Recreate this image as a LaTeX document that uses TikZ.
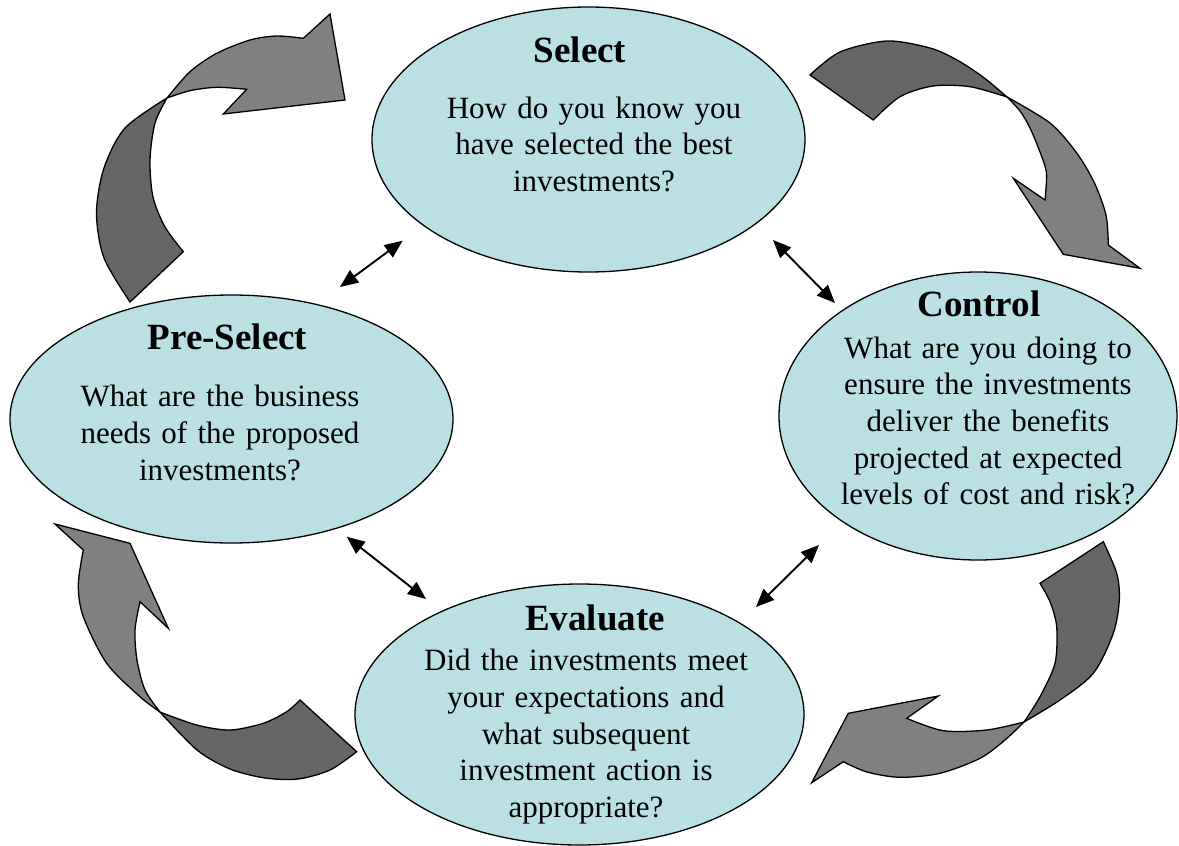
\documentclass[tikz,border=0pt]{standalone}
\usepackage{fontspec}
\setmainfont{Liberation Serif}
\usetikzlibrary{shapes.geometric,arrows.meta}
\definecolor{bubble}{RGB}{187,224,227}
\definecolor{bandDark}{RGB}{102,102,102}
\definecolor{bandLight}{RGB}{128,128,128}

\begin{document}
\begin{tikzpicture}[x=1pt,y=-1pt,
  stage/.style={ellipse, draw=black, line width=1.3pt, fill=bubble, inner sep=0pt},
  title/.style={font=\fontsize{37}{40}\selectfont\bfseries, anchor=base, inner sep=0pt},
  body/.style={font=\fontsize{31}{36.7}\selectfont, anchor=base, inner sep=0pt,
               text width=430pt, align=center},
  link/.style={line width=1.9pt,
               {Triangle[length=18pt,width=15pt]}-{Triangle[length=18pt,width=15pt]}},
  bandA/.style={fill=bandDark, draw=black, line width=1.3pt, line join=miter},
  bandB/.style={fill=bandLight, draw=black, line width=1.3pt, line join=miter}
]
\useasboundingbox (0,0) rectangle (1179,846);

% ---- curved cycle arrows (twisted ribbons: dark tail band, light head band)
% Pre-Select -> Select
\filldraw[bandA] (183.3,251.7) -- (130,302)
  -- plot[smooth] coordinates {(130,302) (104,258) (96.5,213) (104,168) (125,128) (167,98)}
  -- plot[smooth] coordinates {(167,98) (155,123) (150,160) (153,197) (165,227) (183.3,251.7)}
  -- cycle;
\filldraw[bandB]
  plot[smooth] coordinates {(167,98) (190,71.7) (216.7,53.3) (250,40) (276.7,36) (303.3,38.3)}
  -- (330,14) -- (345,100) -- (223.3,114) -- (246.7,89.3)
  -- plot[smooth] coordinates {(246.7,89.3) (216.7,87.3) (190,90.7) (167,98)}
  -- cycle;

% Select -> Control
\filldraw[bandA] (873.3,120) -- (810,75)
  -- plot[smooth] coordinates {(810,75) (840,52) (887,41) (930,48) (957,60) (983,77) (1007,97)}
  -- plot[smooth] coordinates {(1007,97) (970,86.7) (933,86) (900,96.7) (873.3,120)}
  -- cycle;
\filldraw[bandB]
  plot[smooth] coordinates {(1007,97) (1050,123) (1076,152) (1094,182) (1106,215) (1108.3,245)}
  -- (1140,268.3) -- (1063.3,254.3) -- (1013.3,178.3) -- (1045,200)
  -- plot[smooth] coordinates {(1045,200) (1046.5,173) (1040,152) (1030,128) (1020,111) (1007,97)}
  -- cycle;

% Control -> Evaluate
\filldraw[bandA] (1040,583.3) -- (1103.3,541.7)
  -- plot[smooth] coordinates {(1103.3,541.7) (1116.7,573.3) (1119.3,600) (1113.3,633.3) (1093.3,673.3) (1060,700) (1024,722)}
  -- plot[smooth] coordinates {(1024,722) (1040,696.7) (1055,663.3) (1056.7,626.7) (1050,601.7) (1040,583.3)}
  -- cycle;
\filldraw[bandB]
  plot[smooth] coordinates {(1024,722) (986.7,730) (943.3,730.7) (906.7,718.3)}
  -- (938.3,696) -- (848.3,713.3) -- (811.7,782.7) -- (843.3,761.7)
  -- plot[smooth] coordinates {(843.3,761.7) (867,772) (900,777.3) (940,773.3) (980,758.3) (1005,740) (1024,722)}
  -- cycle;

% Evaluate -> Pre-Select
\filldraw[bandA] (300,700) -- (356.7,751.7)
  -- plot[smooth] coordinates {(356.7,751.7) (330,770) (298,779) (265,778) (230,769) (197,750) (160,712)}
  -- plot[smooth] coordinates {(160,712) (196.7,725) (230,730) (263.3,723.3) (286.7,711.7) (300,700)}
  -- cycle;
\filldraw[bandB]
  plot[smooth] coordinates {(160,712) (140,696.7) (106.7,663.3) (83.3,616.7) (78.3,585) (83.3,550)}
  -- (55,524) -- (130,543.3) -- (168.3,628.3) -- (140,601.7)
  -- plot[smooth] coordinates {(140,601.7) (135,630) (137,660) (145,690) (160,712)}
  -- cycle;

% ---- the four stages
\node[stage, minimum width=433pt, minimum height=265pt] (sel) at (588.5,139.5) {};
\node[stage, minimum width=443pt, minimum height=248pt] (pre) at (231.5,419) {};
\node[stage, minimum width=398pt, minimum height=288pt] (ctl) at (978,416) {};
\node[stage, minimum width=449pt, minimum height=261pt] (eva) at (579.5,714.5) {};

\node[title] (selT) at (580,62) {Select};
\node[body]  (selB) at (594,118) {How do you know you\\have selected the best\\investments?};

\node[title] (preT) at (227.5,349) {Pre-Select};
\node[body]  (preB) at (220,406.7) {What are the business\\needs of the proposed\\investments?};

\node[title] (ctlT) at (979,316.7) {Control};
\node[body]  (ctlB) at (988,358) {What are you doing to\\ensure the investments\\deliver the benefits\\projected at expected\\levels of cost and risk?};

\node[title] (evaT) at (595,630) {Evaluate};
\node[body]  (evaB) at (586,670.7) {Did the investments meet\\your expectations and\\what subsequent\\investment action is\\appropriate?};

% ---- two-way links between neighbouring stages
\coordinate (l1s) at (402.7,240.7);
\coordinate (l1p) at (340,287);
\coordinate (l2s) at (773,240);
\coordinate (l2c) at (835,303);
\coordinate (l3p) at (346.7,536.7);
\coordinate (l3e) at (426,599);
\coordinate (l4c) at (819,545);
\coordinate (l4e) at (756,607);
\draw[link] (l1p) -- (l1s);
\draw[link] (l2s) -- (l2c);
\draw[link] (l3p) -- (l3e);
\draw[link] (l4c) -- (l4e);
\end{tikzpicture}
\end{document}
